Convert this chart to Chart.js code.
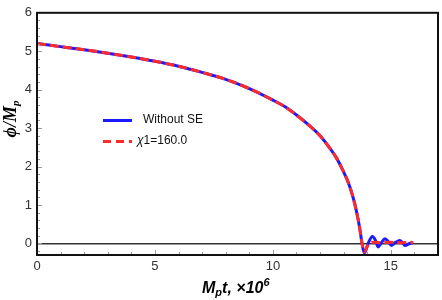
<!DOCTYPE html>
<html>
<head>
<meta charset="utf-8">
<script src="https://cdn.jsdelivr.net/npm/chart.js@4.4.1/dist/chart.umd.min.js"></script>
<style>
  body { margin: 0; background: #fff; }
  #wrap { position: relative; width: 442px; height: 300px; font-family: "Liberation Sans", Arial, sans-serif; }
  #wrap canvas { position: absolute; left: 0; top: 0; }
  .lbl { position: absolute; white-space: nowrap; color: #000; }
  #xTitle { left: 202px; top: 276px; font-size: 16px; font-weight: bold; font-style: italic; }
  #xTitle sub { font-size: 11px; vertical-align: -3px; }
  #xTitle sup { font-size: 11px; vertical-align: 7px; }
  #yTitle { left: 10px; top: 119px; font-family: "Liberation Serif", serif; font-size: 18px; font-weight: bold; font-style: italic;
            transform: translate(-50%, -50%) rotate(-90deg); }
  #yTitle sub { font-size: 11px; vertical-align: -3px; }
  .legRow { position: absolute; left: 103px; height: 14px; font-size: 12px; color: #111; }
  .legRow .swatch { position: absolute; left: 0; top: 6px; width: 29px; height: 3px; }
  .legRow span.txt { position: absolute; top: -1px; white-space: nowrap; }
</style>
</head>
<body>
<div id="wrap">
  <canvas id="phiChart" width="442" height="300"></canvas>
  <div class="lbl" id="xTitle">M<sub>p</sub>t, &times;10<sup>6</sup></div>
  <div class="lbl" id="yTitle">&#981;/M<sub>p</sub></div>
  <div class="legRow" style="top:113px;">
    <div class="swatch" style="background:#1a1aff;"></div>
    <span class="txt" style="left:40px;">Without SE</span>
  </div>
  <div class="legRow" style="top:134px;">
    <div class="swatch" style="background:repeating-linear-gradient(90deg,#ff2a2a 0 8px,transparent 8px 13px);"></div>
    <span class="txt" style="left:34px;"><i>&chi;</i>1=160.0</span>
  </div>
</div>
<script>
// time in units of 10^6 / M_p, field in units of M_p
const timeBlue = [0, 1, 2, 3, 4, 5, 6, 7, 8, 9, 10, 10.5, 11, 11.5, 12, 12.4, 12.7, 13.0, 13.2, 13.4, 13.55, 13.68, 13.77,
                  13.88, 14.05, 14.22, 14.35, 14.46, 14.6, 14.75, 14.9, 15.03, 15.2, 15.38, 15.5, 15.6, 15.8, 15.95];
const phiBlue  = [5.20, 5.12, 5.04, 4.95, 4.85, 4.74, 4.61, 4.45, 4.27, 4.03, 3.73, 3.56, 3.34, 3.09, 2.80, 2.49, 2.22, 1.86, 1.58, 1.20, 0.82, 0.40, 0.04,
                  -0.25, 0.02, 0.18, 0.08, -0.09, 0.02, 0.12, 0.04, -0.05, 0.03, 0.08, 0.02, -0.05, 0.00, 0.02];

const timeRed = [0, 1, 2, 3, 4, 5, 6, 7, 8, 9, 10, 10.5, 11, 11.5, 12, 12.4, 12.7, 13.0, 13.2, 13.4, 13.55, 13.68, 13.77,
                 13.87, 14.0, 14.12, 14.3, 14.6, 15.0, 15.4, 15.8, 15.95];
const phiRed  = [5.20, 5.12, 5.04, 4.95, 4.85, 4.74, 4.61, 4.45, 4.27, 4.03, 3.73, 3.56, 3.34, 3.09, 2.80, 2.49, 2.22, 1.86, 1.58, 1.20, 0.82, 0.40, 0.04,
                 -0.22, -0.08, 0.02, 0.03, 0.02, 0.03, 0.02, 0.03, 0.02];

const xTickLabels = [0, 5, 10, 15];
const yTickLabels = [0, 1, 2, 3, 4, 5, 6];

const toPoints = (ts, ys) => ts.map((t, i) => ({ x: t, y: ys[i] }));

// frame + inward minor ticks (Mathematica style)
const framePlugin = {
  id: 'frame',
  afterDraw(chart) {
    const { ctx, chartArea: a, scales } = chart;
    ctx.save();
    ctx.strokeStyle = '#9a9a9a';
    ctx.lineWidth = 1;
    ctx.beginPath();
    for (let t = 1; t <= 16; t++) {
      const px = Math.round(scales.x.getPixelForValue(t)) + 0.5;
      const len = xTickLabels.includes(t) ? 5 : 3;
      ctx.moveTo(px, a.bottom); ctx.lineTo(px, a.bottom - len);
    }
    for (let k = -1; k <= 29; k++) {
      const v = k * 0.2;
      const py = Math.round(scales.y.getPixelForValue(v)) + 0.5;
      const len = (k % 5 === 0) ? 5 : 3;
      ctx.moveTo(a.left, py); ctx.lineTo(a.left + len, py);
    }
    ctx.stroke();
    ctx.strokeStyle = '#111';
    ctx.lineWidth = 2;
    ctx.strokeRect(a.left, a.top, a.right - a.left, a.bottom - a.top);
    ctx.restore();
  }
};

new Chart(document.getElementById('phiChart'), {
  type: 'scatter',
  data: {
    datasets: [
      {
        label: 'Without SE',
        data: toPoints(timeBlue, phiBlue),
        showLine: true,
        borderColor: '#1a1aff',
        borderWidth: 3,
        pointRadius: 0,
        cubicInterpolationMode: 'monotone',
        order: 2
      },
      {
        label: 'χ1=160.0',
        data: toPoints(timeRed, phiRed),
        showLine: true,
        borderColor: '#ff2a2a',
        borderWidth: 3,
        borderDash: [9, 4],
        pointRadius: 0,
        cubicInterpolationMode: 'monotone',
        order: 1
      }
    ]
  },
  options: {
    responsive: false,
    animation: false,
    layout: { padding: { top: 7, right: 4, left: 0, bottom: 0 } },
    plugins: { legend: { display: false }, tooltip: { enabled: false } },
    scales: {
      x: {
        type: 'linear',
        min: 0, max: 17,
        afterBuildTicks: s => { s.ticks = xTickLabels.map(v => ({ value: v })); },
        afterFit: s => { s.height = 45; },
        grid: { display: false, drawTicks: false },
        border: { display: false },
        ticks: { padding: 4, color: '#333', font: { family: 'Liberation Sans', size: 13 } }
      },
      y: {
        type: 'linear',
        min: -0.3, max: 6,
        afterBuildTicks: s => { s.ticks = yTickLabels.map(v => ({ value: v })); },
        afterFit: s => { s.width = 37; },
        grid: {
          drawTicks: false,
          color: c => (c.tick && c.tick.value === 0) ? '#333' : 'rgba(0,0,0,0)',
          lineWidth: 1.5
        },
        border: { display: false },
        ticks: { padding: 5, color: '#333', font: { family: 'Liberation Sans', size: 13 } }
      }
    }
  },
  plugins: [framePlugin]
});
</script>
</body>
</html>
